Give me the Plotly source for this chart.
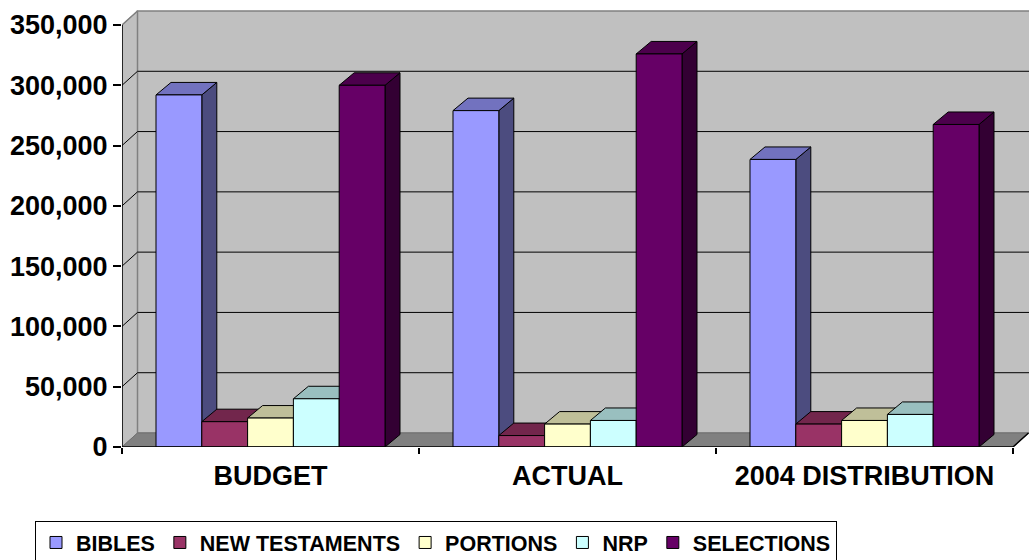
import plotly.graph_objects as go

# ---------------- data ----------------
categories = ["BUDGET", "ACTUAL", "2004 DISTRIBUTION"]
series_names = ["BIBLES", "NEW TESTAMENTS", "PORTIONS", "NRP", "SELECTIONS"]
bibles = [292000, 279000, 238500]
new_testaments = [21000, 9500, 19000]
portions = [24000, 19000, 22000]
nrp = [40000, 22000, 27000]
selections = [300000, 326000, 267500]
y_tick_values = [0, 50000, 100000, 150000, 200000, 250000, 300000, 350000]

series_values = [bibles, new_testaments, portions, nrp, selections]
front_colors = ["#9999FF", "#993366", "#FFFFCC", "#CCFFFF", "#660066"]

# ---------------- geometry ----------------
FIG_W, FIG_H = 1029, 560
ML, MR, MT, MB = 122, 0, 10, 113
plot_w = FIG_W - ML - MR
plot_h = FIG_H - MT - MB
PX_PER_CAT = 297.0
Y_MAX = 350000
FRONT_PX = 422.0  # pixels from 0 to 350,000 on the front plane
x_max = plot_w / PX_PER_CAT
y_top = Y_MAX * plot_h / FRONT_PX


def dxu(px):
    return px / PX_PER_CAT


def dyu(px):
    return px * Y_MAX / FRONT_PX


wall_dx, wall_dy = dxu(15.5), dyu(14)
bar_dx, bar_dy = dxu(15), dyu(12.5)
group_frac = 229.0 / 297.0
n_series = len(series_names)
bw = group_frac / n_series
centers = [i + 0.5 for i in range(len(categories))]
n_cat = len(categories)


def shade(hexc, f):
    h = hexc.lstrip("#")
    r, g, b = int(h[0:2], 16), int(h[2:4], 16), int(h[4:6], 16)
    return "#%02X%02X%02X" % (int(r * f), int(g * f), int(b * f))


def path(points):
    return "M " + " L ".join(f"{x},{y}" for x, y in points) + " Z"


def open_path(points):
    return "M " + " L ".join(f"{x},{y}" for x, y in points)


shapes = []
# left wall
shapes.append(dict(type="path", xref="x", yref="y", layer="below",
                   path=path([(0, 0), (0, Y_MAX), (wall_dx, Y_MAX + wall_dy), (wall_dx, wall_dy)]),
                   fillcolor="#C0C0C0", line=dict(color="#808080", width=1)))
# back wall
shapes.append(dict(type="path", xref="x", yref="y", layer="below",
                   path=path([(wall_dx, wall_dy), (wall_dx, Y_MAX + wall_dy),
                              (x_max + 1, Y_MAX + wall_dy), (x_max + 1, wall_dy)]),
                   fillcolor="#C0C0C0", line=dict(color="#808080", width=1.5)))
# floor
shapes.append(dict(type="path", xref="x", yref="y", layer="below",
                   path=path([(0, 0), (wall_dx, wall_dy), (n_cat + wall_dx, wall_dy), (n_cat, 0)]),
                   fillcolor="#808080", line=dict(color="#707070", width=1)))
# gridlines on left wall + back wall
for v in y_tick_values[1:-1]:
    shapes.append(dict(type="path", xref="x", yref="y", layer="below",
                       path=open_path([(0, v), (wall_dx, v + wall_dy), (x_max + 1, v + wall_dy)]),
                       line=dict(color="black", width=1)))
# top diagonal of left wall (gray)
shapes.append(dict(type="path", xref="x", yref="y", layer="below",
                   path=open_path([(0, Y_MAX), (wall_dx, Y_MAX + wall_dy)]),
                   line=dict(color="#808080", width=1.5)))

# 3D side & top faces of bars (painter order: group by group, left to right)
for ci, c in enumerate(centers):
    for si in range(n_series):
        h = series_values[si][ci]
        left = c - group_frac / 2 + si * bw
        right = left + bw
        col = front_colors[si]
        shapes.append(dict(type="path", xref="x", yref="y", layer="below",
                           path=path([(right, 0), (right, h), (right + bar_dx, h + bar_dy), (right + bar_dx, bar_dy)]),
                           fillcolor=shade(col, 0.5), line=dict(color="black", width=1)))
        shapes.append(dict(type="path", xref="x", yref="y", layer="below",
                           path=path([(left, h), (right, h), (right + bar_dx, h + bar_dy), (left + bar_dx, h + bar_dy)]),
                           fillcolor=shade(col, 0.75), line=dict(color="black", width=1)))

# front axis lines
shapes.append(dict(type="path", xref="x", yref="y", layer="above",
                   path=open_path([(0, Y_MAX), (0, 0), (n_cat, 0), (n_cat + wall_dx, wall_dy)]),
                   line=dict(color="black", width=1.5)))

fig = go.Figure()
for si, name in enumerate(series_names):
    fig.add_trace(go.Bar(
        name=name,
        x=centers,
        y=series_values[si],
        width=bw,
        offset=-group_frac / 2 + si * bw,
        marker=dict(color=front_colors[si], line=dict(color="black", width=1)),
        hoverinfo="skip",
    ))

FONT = "Liberation Sans, Arial, sans-serif"
fig.update_layout(
    template="none",
    width=FIG_W, height=FIG_H,
    margin=dict(l=ML, r=MR, t=MT, b=MB, pad=0, autoexpand=False),
    paper_bgcolor="white", plot_bgcolor="white",
    barmode="overlay",
    shapes=shapes,
    showlegend=True,
    legend=dict(
        orientation="h", xref="container", yref="container",
        x=35 / FIG_W, y=1 - 521 / FIG_H, xanchor="left", yanchor="top",
        bordercolor="black", borderwidth=1, bgcolor="white",
        font=dict(family=FONT, size=21.5, color="black", weight="bold"),
        traceorder="normal",
    ),
    xaxis=dict(
        range=[0, x_max], showgrid=False, zeroline=False, showline=False, automargin=False,
        tickmode="array", tickvals=centers, ticktext=categories,
        ticks="outside", ticklen=1, tickcolor="rgba(0,0,0,0)",
        ticklabelstandoff=4,
        tickfont=dict(family=FONT, size=27, color="black", weight="bold"),
        minor=dict(tickmode="array", tickvals=list(range(n_cat + 1)), ticks="outside",
                   ticklen=6, tickcolor="black", tickwidth=1.5, showgrid=False),
        fixedrange=True,
    ),
    yaxis=dict(
        range=[0, y_top], showgrid=False, zeroline=False, showline=False, automargin=False,
        tickmode="array", tickvals=y_tick_values, tickformat=",d",
        ticks="outside", ticklen=8, tickcolor="black", tickwidth=1.5,
        ticklabelstandoff=0,
        tickfont=dict(family=FONT, size=27, color="black", weight="bold"),
        fixedrange=True,
    ),
)

fig.write_html("out.html", config={"displayModeBar": False},
               post_script="document.body.style.margin='0';document.body.style.padding='0';")
